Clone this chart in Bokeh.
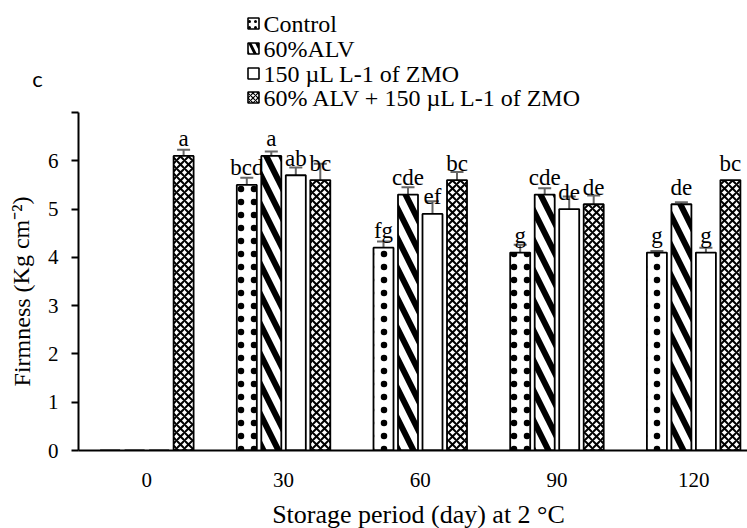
from bokeh.plotting import figure
from bokeh.models import Range1d, ColumnDataSource, Whisker, TeeHead, Label, FixedTicker
from bokeh.core.properties import value
from bokeh.embed import file_html
from bokeh.resources import INLINE

# ---- data ----
days = ["0", "30", "60", "90", "120"]
series_names = ["Control", "60%ALV", "150 \u00b5L L-1 of ZMO", "60% ALV + 150 \u00b5L L-1 of ZMO"]
control = [0.0, 5.5, 4.2, 4.1, 4.1]
alv = [0.0, 6.1, 5.3, 5.3, 5.1]
zmo = [0.0, 5.7, 4.9, 5.0, 4.1]
combo = [6.1, 5.6, 5.6, 5.1, 5.6]
err_control = [0.0, 0.15, 0.13, 0.16, 0.03]
err_alv = [0.0, 0.09, 0.15, 0.13, 0.04]
err_zmo = [0.0, 0.16, 0.26, 0.26, 0.10]
err_combo = [0.13, 0.34, 0.17, 0.18, 0.0]
let_control = ["", "bcd", "fg", "g", "g"]
let_alv = ["", "a", "cde", "cde", "de"]
let_zmo = ["", "ab", "ef", "de", "g"]
let_combo = ["a", "bc", "bc", "de", "bc"]
y_ticks = [0, 1, 2, 3, 4, 5, 6, 7]

SERIF = "Liberation Serif"
W, H = 747, 528
FL, FB = 78, 78            # frame left / bottom borders (px)
PXX = 136.7                # px per category
FH = H - FB                # frame height
PXY = (FH - 112) / 7.0     # px per y unit
X0 = -0.5
X1 = X0 + (W - FL) / PXX
Y1 = FH / PXY

def dx(px):   # canvas px -> data x
    return (px - FL) / PXX + X0

def dy(py):   # canvas py -> data y
    return (FH - py) / PXY

p = figure(width=W, height=H, output_backend="svg", toolbar_location=None,
           x_range=Range1d(X0, X1), y_range=Range1d(0, Y1),
           min_border_left=FL, min_border_right=0, min_border_top=0, min_border_bottom=FB)
p.outline_line_color = None
p.grid.visible = False
p.background_fill_color = "white"
p.border_fill_color = "white"

styles = [
    dict(hatch_pattern=".", hatch_scale=13, hatch_weight=1),
    dict(hatch_pattern="\\", hatch_scale=30, hatch_weight=6),
    dict(),
    dict(hatch_pattern="x", hatch_scale=8, hatch_weight=2),
]
leg_styles = [
    dict(hatch_pattern=".", hatch_scale=6, hatch_weight=1.5),
    dict(hatch_pattern="\\", hatch_scale=14, hatch_weight=3),
    dict(),
    dict(hatch_pattern="x", hatch_scale=5, hatch_weight=1.2),
]
vals = [control, alv, zmo, combo]
errs = [err_control, err_alv, err_zmo, err_combo]
lets = [let_control, let_alv, let_zmo, let_combo]

pitch = 24.5 / PXX
bw = 20.0 / PXX
idx = list(range(len(days)))
xpos = [[i + (k - 1.5) * pitch for i in idx] for k in range(4)]

# bars
for k in range(4):
    src = ColumnDataSource(dict(x=xpos[k], top=vals[k]))
    p.vbar(x="x", top="top", width=bw, source=src, fill_color="white",
           line_color="black", line_width=1.8, hatch_color="black", **styles[k])

# error bars
for k in range(4):
    ex, lo, up = [], [], []
    for i in idx:
        if errs[k][i] > 0:
            ex.append(xpos[k][i]); lo.append(vals[k][i] - errs[k][i]); up.append(vals[k][i] + errs[k][i])
    esrc = ColumnDataSource(dict(x=ex, lower=lo, upper=up))
    p.add_layout(Whisker(base="x", lower="lower", upper="upper", source=esrc, dimension="height",
                         line_color="#666666", line_width=2,
                         upper_head=TeeHead(size=13, line_color="#666666", line_width=2),
                         lower_head=TeeHead(size=13, line_color="#666666", line_width=2)))

# significance letters (drawn last, on top of the bars)
for k in range(4):
    lsrc = ColumnDataSource(dict(x=xpos[k], y=[v + 17.0 / PXY for v in vals[k]], t=lets[k]))
    p.text(x="x", y="y", text="t", source=lsrc, text_font=value(SERIF), text_font_size="23px",
           text_align="center", text_baseline="alphabetic", text_color="black")

# legend (drawn in the frame above the axis bounds)
leg_rows_py = [23, 48, 73, 97]
for k in range(4):
    ly = dy(leg_rows_py[k])
    p.rect(x=[dx(253)], y=[ly], width=11, height=11, width_units="screen", height_units="screen",
           fill_color="white", line_color="black", line_width=1.6, hatch_color="black", **leg_styles[k])
    p.text(x=[dx(263)], y=[ly], text=[series_names[k]], text_font=value(SERIF), text_font_size="24px",
           text_align="left", text_baseline="middle", text_color="black")

# axes
p.yaxis.bounds = (0, 7)
p.yaxis.ticker = FixedTicker(ticks=y_ticks)
p.yaxis.major_label_overrides = {7: ""}
p.yaxis.major_tick_out = 7
p.yaxis.major_tick_in = 0
p.yaxis.minor_tick_line_color = None
p.yaxis.major_label_standoff = 13
p.yaxis.axis_line_width = 2
p.yaxis.major_tick_line_width = 2
p.yaxis.axis_line_color = "black"
p.yaxis.major_tick_line_color = "black"

p.xaxis.bounds = (-0.5, 4.5)
p.xaxis.ticker = FixedTicker(ticks=idx)
p.xaxis.major_label_overrides = {i: d for i, d in zip(idx, days)}
p.xaxis.major_tick_out = 0
p.xaxis.major_tick_in = 0
p.xaxis.minor_tick_line_color = None
p.xaxis.major_label_standoff = 22
p.xaxis.axis_line_width = 2
p.xaxis.axis_line_color = "black"

for ax in (p.xaxis, p.yaxis):
    ax.major_label_text_font = SERIF
    ax.major_label_text_font_size = "21px"
    ax.major_label_text_color = "black"

# axis titles and panel label (side-panel annotations, so they are not clipped to the frame)
p.add_layout(Label(x=dx(418), y=dy(514), text="Storage period (day) at 2 \u00b0C", text_font=SERIF,
                   text_font_size="26px", text_align="center", text_baseline="alphabetic",
                   text_color="black"), "below")
p.add_layout(Label(x=dx(21), y=dy(291), text="Firmness (Kg cm\u207b\u00b2)", text_font=SERIF,
                   text_font_size="24px", text_align="center", text_baseline="middle", angle=1.5708,
                   text_color="black"), "left")
p.add_layout(Label(x=dx(37), y=dy(78), text="c", text_font="Lato", text_font_size="22px",
                   text_align="center", text_baseline="middle", text_color="black"), "left")

open("out.html", "w").write(file_html(p, INLINE))
